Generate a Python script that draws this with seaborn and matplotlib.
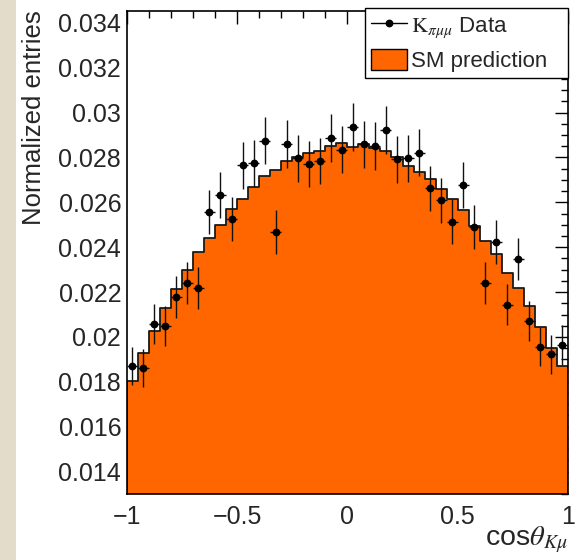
import numpy as np
import pandas as pd
import matplotlib
matplotlib.use("Agg")
import matplotlib.pyplot as plt
import seaborn as sns
from matplotlib.lines import Line2D
from matplotlib.patches import Patch, Rectangle
from matplotlib.ticker import MultipleLocator

# ---------------- data ----------------
bin_edges = [-1.0 + 0.05 * i for i in range(41)]
sm_prediction = [
    0.01805, 0.01927, 0.02028, 0.02130, 0.02213, 0.02298, 0.02380, 0.02442,
    0.02499, 0.02569, 0.02613, 0.02667, 0.02717, 0.02744, 0.02784, 0.02803,
    0.02818, 0.02830, 0.02851, 0.02866, 0.02848, 0.02858, 0.02843, 0.02828,
    0.02800, 0.02763, 0.02736, 0.02704, 0.02658, 0.02613, 0.02566, 0.02496,
    0.02428, 0.02370, 0.02286, 0.02220, 0.02138, 0.02046, 0.01950, 0.01871,
]
data_values = [
    0.01872, 0.01861, 0.02059, 0.02048, 0.02178, 0.02239, 0.02217, 0.02558,
    0.02633, 0.02526, 0.02765, 0.02774, 0.02874, 0.02468, 0.02860, 0.02796,
    0.02771, 0.02784, 0.02886, 0.02835, 0.02937, 0.02858, 0.02851, 0.02922,
    0.02792, 0.02796, 0.02821, 0.02662, 0.02610, 0.02514, 0.02676, 0.02491,
    0.02242, 0.02423, 0.02143, 0.02347, 0.02071, 0.01957, 0.01923, 0.01964,
]
data_errors = [
    0.00085, 0.00085, 0.00089, 0.00089, 0.00092, 0.00093, 0.00093, 0.00099,
    0.00101, 0.00099, 0.00104, 0.00104, 0.00105, 0.00098, 0.00105, 0.00104,
    0.00104, 0.00104, 0.00106, 0.00105, 0.00107, 0.00105, 0.00105, 0.00106,
    0.00104, 0.00104, 0.00104, 0.00101, 0.00100, 0.00099, 0.00102, 0.00098,
    0.00093, 0.00097, 0.00091, 0.00095, 0.00090, 0.00087, 0.00086, 0.00087,
]
x_ticks = [-1, -0.5, 0, 0.5, 1]
y_ticks = [0.014, 0.016, 0.018, 0.02, 0.022, 0.024, 0.026, 0.028, 0.03, 0.032, 0.034]
y_tick_labels = ["0.014", "0.016", "0.018", "0.02", "0.022", "0.024",
                 "0.026", "0.028", "0.03", "0.032", "0.034"]

centers = [(bin_edges[i] + bin_edges[i + 1]) / 2 for i in range(40)]
df = pd.DataFrame({"x": centers, "sm": sm_prediction,
                   "data": data_values, "err": data_errors})

# ---------------- style ----------------
sns.set_style("white")
plt.rcParams["font.family"] = ["Liberation Sans", "DejaVu Sans"]
plt.rcParams["mathtext.fontset"] = "stix"

ORANGE = "#FF6600"

fig = plt.figure(figsize=(5.77, 5.60), dpi=100)
fig.patches.append(Rectangle((0, 0), 16 / 577, 1, transform=fig.transFigure,
                             facecolor="#e4dccb", edgecolor="none", zorder=-5))
ax = fig.add_axes([126.7 / 577, 66 / 560, 441.3 / 577, 483.3 / 560])

sns.histplot(data=df, x="x", weights="sm", bins=bin_edges, element="step",
             fill=True, color=ORANGE, alpha=1.0, edgecolor="#1a1a1a",
             linewidth=1.3, ax=ax, zorder=2)

ax.errorbar(df["x"], df["data"], yerr=df["err"], xerr=0.025, fmt="o",
            color="black", ecolor="#111111", elinewidth=1.0, markersize=4.6,
            capsize=0, zorder=5)

ax.set_xlim(-1, 1)
ax.set_ylim(0.01300, 0.03454)
ax.set_xticks(x_ticks)
ax.set_xticklabels(["\u22121", "\u22120.5", "0", "0.5", "1"])
ax.set_yticks(y_ticks)
ax.set_yticklabels(y_tick_labels)
ax.xaxis.set_minor_locator(MultipleLocator(0.1))
ax.yaxis.set_minor_locator(MultipleLocator(0.0005))
ax.tick_params(axis="both", which="both", direction="in", top=True, right=True,
               width=1.0, color="black", labelsize=18)
ax.tick_params(axis="x", which="major", length=9.5, pad=8)
ax.tick_params(axis="x", which="minor", length=5)
ax.tick_params(axis="y", which="major", length=9.5, pad=4)
ax.tick_params(axis="y", which="minor", length=5)
for s in ax.spines.values():
    s.set_visible(True)
    s.set_color("black")
    s.set_linewidth(1.2)

ax.set_ylabel("Normalized entries", fontsize=18.5, loc="top", labelpad=9)
ax.set_xlabel(r"cos$\theta_{K\mu}$", fontsize=20.5, loc="right", labelpad=-3)

handles = [
    Line2D([], [], color="black", marker="o", markersize=4.6, linewidth=1.0),
    Patch(facecolor=ORANGE, edgecolor="black", linewidth=1.0),
]
labels = [r"$\mathrm{K}_{\pi\mu\mu}$ Data", "SM prediction"]
leg = ax.legend(handles, labels, loc="upper left",
                bbox_to_anchor=(0.540, 0.0, 0.460, 1.005), mode="expand",
                borderaxespad=0, fancybox=False, frameon=True, framealpha=1,
                edgecolor="black", fontsize=16, handlelength=1.62,
                handleheight=1.1, handletextpad=0.2, borderpad=0.25,
                labelspacing=0.4)
leg.get_frame().set_linewidth(1.0)
leg.set_zorder(10)

fig.savefig("out.png", dpi=100)
